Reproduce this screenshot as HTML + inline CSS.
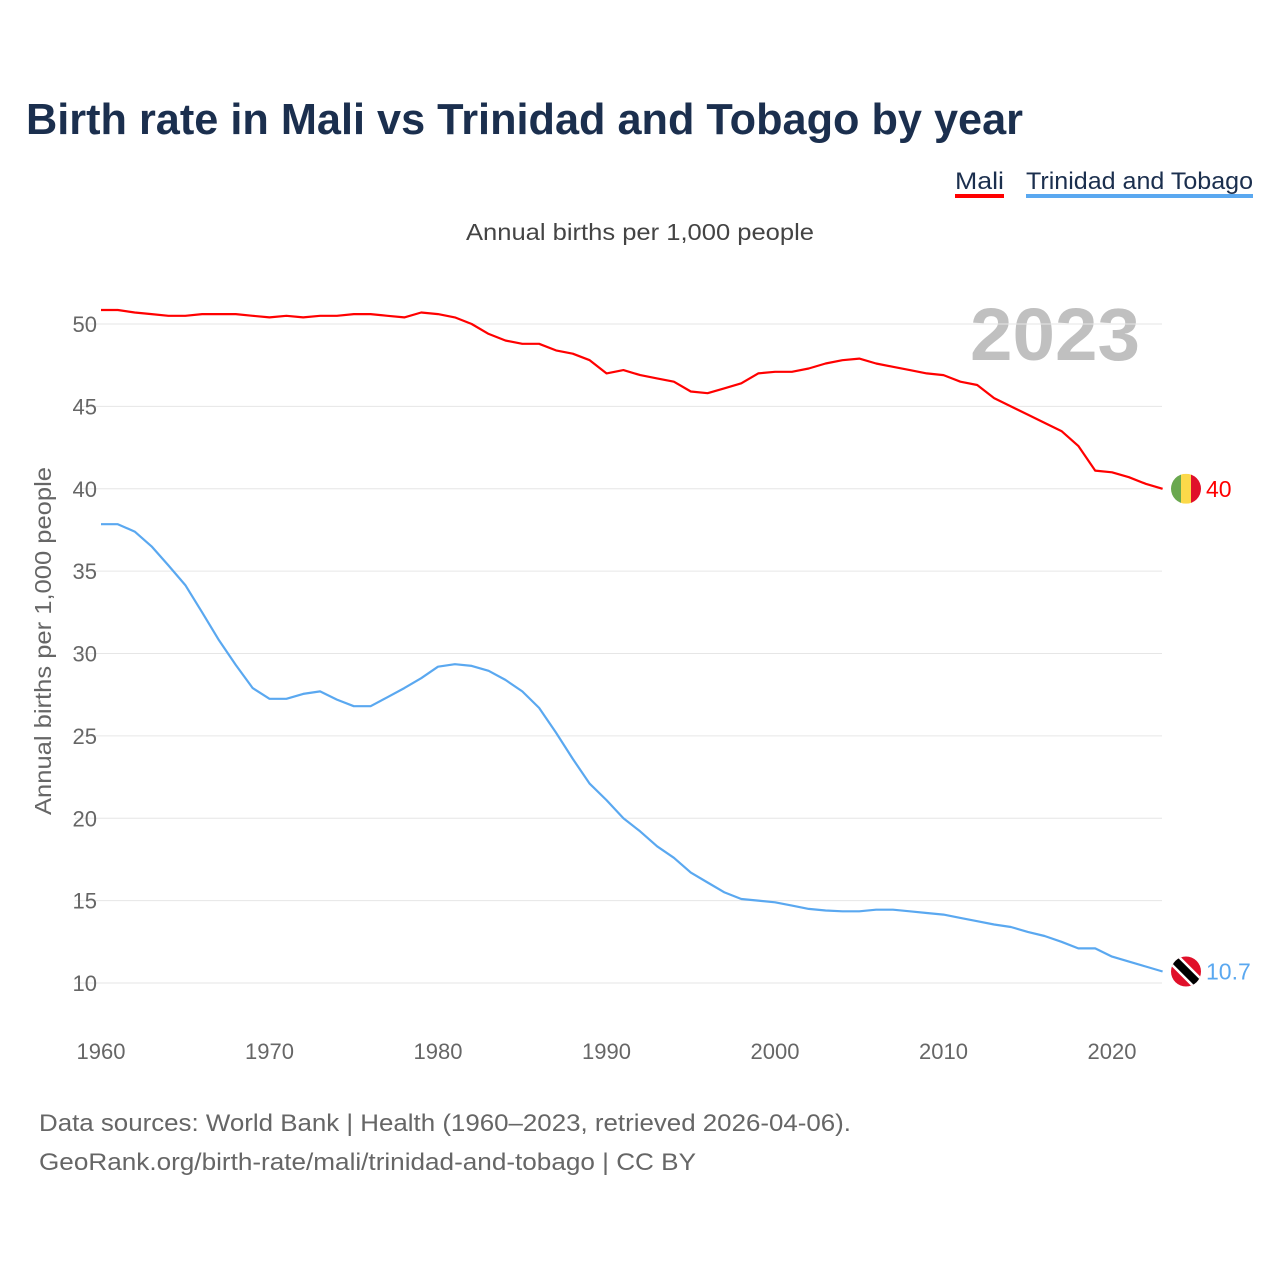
<!DOCTYPE html>
<html><head><meta charset="utf-8"><style>
html,body{margin:0;padding:0;background:#fff;}
body{width:1280px;height:1280px;position:relative;font-family:"Liberation Sans",sans-serif;overflow:hidden;}
</style></head><body>
<svg id="chart" width="1280" height="1280" xmlns="http://www.w3.org/2000/svg" font-family="Liberation Sans, sans-serif">
<text x="26" y="134" font-size="44" font-weight="bold" fill="#1b2f4e" textLength="997" lengthAdjust="spacingAndGlyphs">Birth rate in Mali vs Trinidad and Tobago by year</text>
<g><text x="955" y="189" font-size="24" fill="#1b2f4e" textLength="49" lengthAdjust="spacingAndGlyphs">Mali</text><rect x="955" y="194" width="49" height="4" fill="#ff0000"/></g>
<g><text x="1026" y="189" font-size="24" fill="#1b2f4e" textLength="227" lengthAdjust="spacingAndGlyphs">Trinidad and Tobago</text><rect x="1026" y="194" width="227" height="4" fill="#5aa8f0"/></g>
<text x="466" y="240" font-size="23" fill="#444" textLength="348" lengthAdjust="spacingAndGlyphs">Annual births per 1,000 people</text>
<text transform="translate(51,815) rotate(-90)" font-size="23" fill="#666" textLength="348" lengthAdjust="spacingAndGlyphs">Annual births per 1,000 people</text>
<text x="1140" y="360" font-size="74" font-weight="bold" fill="#c0c0c0" text-anchor="end" textLength="170" lengthAdjust="spacingAndGlyphs">2023</text>
<g id="grid"></g><g id="lines"></g><g id="ends"></g>
<text x="39" y="1131" font-size="24" fill="#666" textLength="812" lengthAdjust="spacingAndGlyphs">Data sources: World Bank | Health (1960–2023, retrieved 2026-04-06).</text>
<text x="39" y="1170" font-size="24" fill="#666" textLength="657" lengthAdjust="spacingAndGlyphs">GeoRank.org/birth-rate/mali/trinidad-and-tobago | CC BY</text>
</svg>
<script>
const years=[];for(let y=1960;y<=2023;y++)years.push(y);
const mali=[50.85,50.85,50.7,50.6,50.5,50.5,50.6,50.6,50.6,50.5,50.4,50.5,50.4,50.5,50.5,50.6,50.6,50.5,50.4,50.7,50.6,50.4,50.0,49.4,49.0,48.8,48.8,48.4,48.2,47.8,47.0,47.2,46.9,46.7,46.5,45.9,45.8,46.1,46.4,47.0,47.1,47.1,47.3,47.6,47.8,47.9,47.6,47.4,47.2,47.0,46.9,46.5,46.3,45.5,45.0,44.5,44.0,43.5,42.6,41.1,41.0,40.7,40.3,40.0];
const tt=[37.85,37.85,37.4,36.5,35.35,34.15,32.5,30.8,29.3,27.9,27.25,27.25,27.55,27.7,27.2,26.8,26.8,27.35,27.9,28.5,29.2,29.35,29.25,28.95,28.4,27.7,26.7,25.2,23.6,22.1,21.1,20.0,19.2,18.3,17.6,16.7,16.1,15.5,15.1,15.0,14.9,14.7,14.5,14.4,14.35,14.35,14.45,14.45,14.35,14.25,14.15,13.95,13.75,13.55,13.4,13.1,12.85,12.5,12.1,12.1,11.6,11.3,11.0,10.7];
const yTicks=[10,15,20,25,30,35,40,45,50];
const xTicks=[1960,1970,1980,1990,2000,2010,2020];
const maliLabel="40", ttLabel="10.7";
const NS="http://www.w3.org/2000/svg";
const X=y=>101+(y-1960)*(1011/60);
const Y=v=>324-(v-50)*(659/40);
function mk(t,a,p){const e=document.createElementNS(NS,t);for(const k in a)e.setAttribute(k,a[k]);p.appendChild(e);return e;}
const grid=document.getElementById('grid');
yTicks.forEach(v=>{
 const l=mk('line',{x1:75,x2:1162,y1:Y(v),y2:Y(v),stroke:'#e6e6e6','stroke-width':1},grid);
 
 
 const t=mk('text',{x:97,y:Y(v)+8,'font-size':22,fill:'#666','text-anchor':'end'},grid);t.textContent=v;
 
 
});
xTicks.forEach(v=>{
 const t=mk('text',{x:X(v),y:1059,'font-size':22,fill:'#666','text-anchor':'middle'},grid);t.textContent=v;
 
 
});
const lines=document.getElementById('lines');
function line(data,col,name){
 const d=data.map((v,i)=>(i?'L':'M')+X(years[i]).toFixed(1)+','+Y(v).toFixed(1)).join('');
 const p=mk('path',{d:d,fill:'none',stroke:col,'stroke-width':2.2,'stroke-linejoin':'round'},lines);
 
 
}
line(mali,'#ff0000','mali-line');
line(tt,'#5aa8f0','trinidad-line');
const ends=document.getElementById('ends');
const cx=1186;
const my=Y(mali[mali.length-1]);
const gm=mk('g',{},ends);


const cm=mk('clipPath',{id:'cm'},gm);mk('circle',{cx:cx,cy:my,r:15},cm);
const gmc=mk('g',{'clip-path':'url(#cm)'},gm);
mk('rect',{x:cx-15,y:my-15,width:10,height:30,fill:'#6aa84f'},gmc);
mk('rect',{x:cx-5,y:my-15,width:10,height:30,fill:'#fcd94a'},gmc);
mk('rect',{x:cx+5,y:my-15,width:10,height:30,fill:'#e0102a'},gmc);
const ml=mk('text',{x:1206,y:my+8,'font-size':23,fill:'#ff0000'},ends);ml.textContent=maliLabel;


const ty=Y(tt[tt.length-1]);
const gt=mk('g',{},ends);


const ct=mk('clipPath',{id:'ct'},gt);mk('circle',{cx:cx,cy:ty,r:15},ct);
const gtc=mk('g',{'clip-path':'url(#ct)'},gt);
mk('rect',{x:cx-15,y:ty-15,width:30,height:30,fill:'#e0102a'},gtc);
mk('line',{x1:cx-15,y1:ty-15,x2:cx+15,y2:ty+15,stroke:'#fff','stroke-width':13},gtc);
mk('line',{x1:cx-15,y1:ty-15,x2:cx+15,y2:ty+15,stroke:'#000','stroke-width':8},gtc);
const tl=mk('text',{x:1206,y:ty+8,'font-size':23,fill:'#5aa8f0'},ends);tl.textContent=ttLabel;


</script>
</body></html>
